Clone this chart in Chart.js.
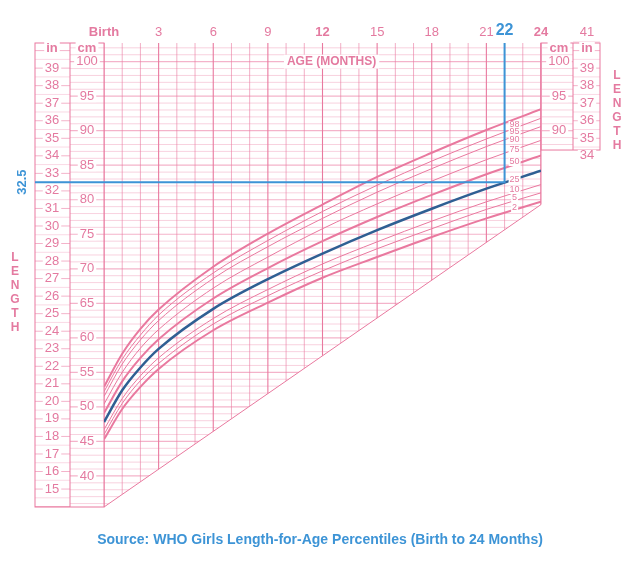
<!DOCTYPE html>
<html><head><meta charset="utf-8">
<script src="https://cdn.jsdelivr.net/npm/chart.js@4"></script>
<style>body{margin:0;background:#fff}#wrap{width:639px;height:576px}</style>
</head><body><div id="wrap"><canvas id="c" width="639" height="576"></canvas></div>
<script>
const ages = [0, 1, 2, 3, 6, 9, 12, 15, 18, 21, 24];
const p2 = [45.3, 49.7, 52.9, 55.5, 61.1, 65.1, 68.7, 71.7, 74.6, 77.3, 79.7];
const p5 = [46.0, 50.5, 53.8, 56.3, 62.0, 66.1, 69.7, 72.9, 75.8, 78.6, 81.0];
const p10 = [46.7, 51.2, 54.5, 57.1, 62.8, 67.0, 70.7, 73.9, 76.9, 79.7, 82.2];
const p25 = [47.8, 52.4, 55.7, 58.4, 64.2, 68.5, 72.2, 75.6, 78.7, 81.6, 84.2];
const p50 = [49.1, 53.7, 57.1, 59.8, 65.7, 70.1, 74.0, 77.5, 80.7, 83.7, 86.4];
const p75 = [50.4, 55.0, 58.5, 61.2, 67.2, 71.7, 75.8, 79.4, 82.7, 85.8, 88.6];
const p90 = [51.5, 56.2, 59.7, 62.5, 68.6, 73.2, 77.3, 81.1, 84.5, 87.7, 90.6];
const p95 = [52.2, 56.9, 60.4, 63.3, 69.4, 74.1, 78.3, 82.1, 85.6, 88.8, 91.8];
const p98 = [52.9, 57.7, 61.3, 64.1, 70.3, 75.1, 79.3, 83.3, 86.8, 90.1, 93.1];
const monthLabels = ["Birth", "3", "6", "9", "12", "15", "18", "21", "24"];
const curveLabels = [["98", 125], ["95", 132], ["90", 140], ["75", 150], ["50", 162], ["25", 180], ["10", 190], ["5", 198], ["2", 208]];
const markAge = 22, markIn = 32.5;

const PINK = "#e9799f", GRID = "#f4b3ca", TXT = "#e47aa0", BLUE = "#3d94d6", DARK = "#2f5f93";

function series(vals, color, w) {
  return { data: ages.map((a, i) => ({ x: a, y: vals[i] })), borderColor: color, borderWidth: w,
    pointRadius: 0, cubicInterpolationMode: "monotone", fill: false };
}

const decor = {
  id: "decor",
  beforeDatasetsDraw(chart) {
    const c = chart.ctx, xs = chart.scales.x, ys = chart.scales.y, a = chart.chartArea;
    const X = v => xs.getPixelForValue(v), Y = v => ys.getPixelForValue(v);
    const cutY = Y(79.3);
    c.save();
    // main grid clipped by diagonal
    c.beginPath();
    c.moveTo(a.left, a.top); c.lineTo(a.right, a.top); c.lineTo(a.right, cutY); c.lineTo(a.left, a.bottom); c.closePath();
    c.save(); c.clip();
    for (let cm = 36; cm <= 102; cm++) {
      c.strokeStyle = GRID; c.lineWidth = cm % 5 === 0 ? 1.2 : 0.6;
      c.beginPath(); c.moveTo(a.left, Y(cm)); c.lineTo(a.right, Y(cm)); c.stroke();
    }
    for (let m = 0; m <= 24; m++) {
      c.strokeStyle = PINK; c.lineWidth = m % 3 === 0 ? 1.1 : 0.6;
      c.beginPath(); c.moveTo(X(m), a.top); c.lineTo(X(m), a.bottom); c.stroke();
    }
    c.restore();
    c.strokeStyle = PINK; c.lineWidth = 1;
    c.beginPath(); c.moveTo(a.left, a.bottom); c.lineTo(a.right, cutY); c.lineTo(a.right, a.top); c.stroke();
    // left columns
    const inL = 35, cmL = 70;
    c.strokeStyle = GRID;
    for (let v = 14; v <= 40.5; v += 0.5) {
      const y = Y(v * 2.54); if (y < a.top || y > a.bottom) continue;
      c.lineWidth = v % 1 === 0 ? 1 : 0.5;
      c.beginPath(); c.moveTo(inL, y); c.lineTo(cmL, y); c.stroke();
    }
    for (let cm = 36; cm <= 102; cm++) {
      c.lineWidth = cm % 5 === 0 ? 1.2 : 0.6;
      c.beginPath(); c.moveTo(cmL, Y(cm)); c.lineTo(a.left, Y(cm)); c.stroke();
    }
    c.strokeStyle = PINK; c.lineWidth = 1;
    c.strokeRect(inL, a.top, a.left - inL, a.bottom - a.top);
    c.beginPath(); c.moveTo(cmL, a.top); c.lineTo(cmL, a.bottom); c.stroke();
    c.font = "13px 'Liberation Sans', Arial"; c.textAlign = "center"; c.textBaseline = "middle";
    const lab = (t, x, y, f) => {
      if (f) c.font = f;
      const w = c.measureText(t).width + 4;
      c.fillStyle = "#fff"; c.fillRect(x - w / 2, y - 6, w, 12);
      c.fillStyle = TXT; c.fillText(t, x, y);
    };
    for (let v = 15; v <= 39; v++) lab(String(v), 52, Y(v * 2.54));
    for (let cm = 40; cm <= 100; cm += 5) lab(String(cm), 87, Y(cm));
    lab("in", 52, 48, "bold 13px 'Liberation Sans', Arial");
    lab("cm", 87, 48);
    // right panel
    const rb = Y(87.2), r1 = a.right + 32, r2 = a.right + 59;
    c.strokeStyle = GRID;
    for (let cm = 88; cm <= 102; cm++) {
      c.lineWidth = cm % 5 === 0 ? 1.2 : 0.6;
      c.beginPath(); c.moveTo(a.right, Y(cm)); c.lineTo(r1, Y(cm)); c.stroke();
    }
    for (let v = 34.5; v <= 40.5; v += 0.5) {
      c.lineWidth = v % 1 === 0 ? 1 : 0.5;
      c.beginPath(); c.moveTo(r1, Y(v * 2.54)); c.lineTo(r2, Y(v * 2.54)); c.stroke();
    }
    c.strokeStyle = PINK; c.lineWidth = 1;
    c.strokeRect(a.right, a.top, r2 - a.right, rb - a.top);
    c.beginPath(); c.moveTo(r1, a.top); c.lineTo(r1, rb); c.stroke();
    c.font = "13px 'Liberation Sans', Arial";
    for (const cm of [90, 95, 100]) lab(String(cm), a.right + 18, Y(cm));
    for (let v = 34; v <= 39; v++) lab(String(v), r1 + 14, Y(v * 2.54));
    lab("cm", a.right + 18, 48, "bold 13px 'Liberation Sans', Arial");
    lab("in", r1 + 14, 48);
    c.restore();
  },
  afterDatasetsDraw(chart) {
    const c = chart.ctx, xs = chart.scales.x, ys = chart.scales.y, a = chart.chartArea;
    const X = v => xs.getPixelForValue(v), Y = v => ys.getPixelForValue(v);
    c.save();
    c.textAlign = "center"; c.textBaseline = "middle";
    c.font = "9px 'Liberation Sans', Arial";
    for (const [t, y] of curveLabels) {
      const w = c.measureText(t).width + 2;
      c.fillStyle = "#fff"; c.fillRect(X(22.55) - w / 2, y - 4, w, 8);
      c.fillStyle = TXT; c.fillText(t, X(22.55), y);
    }
    // blue markers
    const my = Y(markIn * 2.54), mx = X(markAge);
    c.strokeStyle = BLUE; c.lineWidth = 2;
    c.beginPath(); c.moveTo(35, my); c.lineTo(mx, my); c.lineTo(mx, a.top); c.stroke();
    c.fillStyle = TXT;
    monthLabels.forEach((t, i) => {
      const m = i * 3;
      c.font = (m === 0 || m === 12 || m === 24 ? "bold " : "") + "13px 'Liberation Sans', Arial";
      c.fillText(t, X(m), 32);
    });
    c.font = "13px 'Liberation Sans', Arial";
    c.fillText("41", a.right + 46, 32);
    c.fillStyle = BLUE; c.font = "bold 16px 'Liberation Sans', Arial";
    c.fillText("22", mx, 31);
    c.save(); c.translate(22, my); c.rotate(-Math.PI / 2);
    c.font = "bold 13px 'Liberation Sans', Arial"; c.fillText(String(markIn), 0, 0); c.restore();
    c.font = "bold 12px 'Liberation Sans', Arial";
    const ageLab = "AGE (MONTHS)", w = c.measureText(ageLab).width + 6;
    c.fillStyle = "#fff"; c.fillRect(X(12.5) - w / 2, Y(100) - 7, w, 14);
    c.fillStyle = TXT; c.fillText(ageLab, X(12.5), Y(100));
    "LENGTH".split("").forEach((ch, i) => { c.fillText(ch, 15, 258 + i * 14); c.fillText(ch, 617, 76 + i * 14); });
    c.fillStyle = BLUE; c.font = "bold 14px 'Liberation Sans', Arial";
    c.fillText("Source: WHO Girls Length-for-Age Percentiles (Birth to 24 Months)", 320, 540);
    c.restore();
  }
};

new Chart(document.getElementById("c"), {
  type: "line",
  data: { datasets: [
    series(p98, PINK, 2), series(p95, PINK, 1), series(p90, PINK, 1), series(p75, PINK, 1),
    series(p50, PINK, 2), series(p10, PINK, 1), series(p5, PINK, 1), series(p2, PINK, 2),
    series(p25, DARK, 2.5)
  ] },
  options: {
    responsive: false, animation: false,
    layout: { padding: { left: 104, right: 98, top: 43, bottom: 69 } },
    scales: { x: { type: "linear", min: 0, max: 24, display: false }, y: { min: 35.5, max: 102.7, display: false } },
    plugins: { legend: { display: false }, tooltip: { enabled: false } }
  },
  plugins: [decor]
});
</script></body></html>
